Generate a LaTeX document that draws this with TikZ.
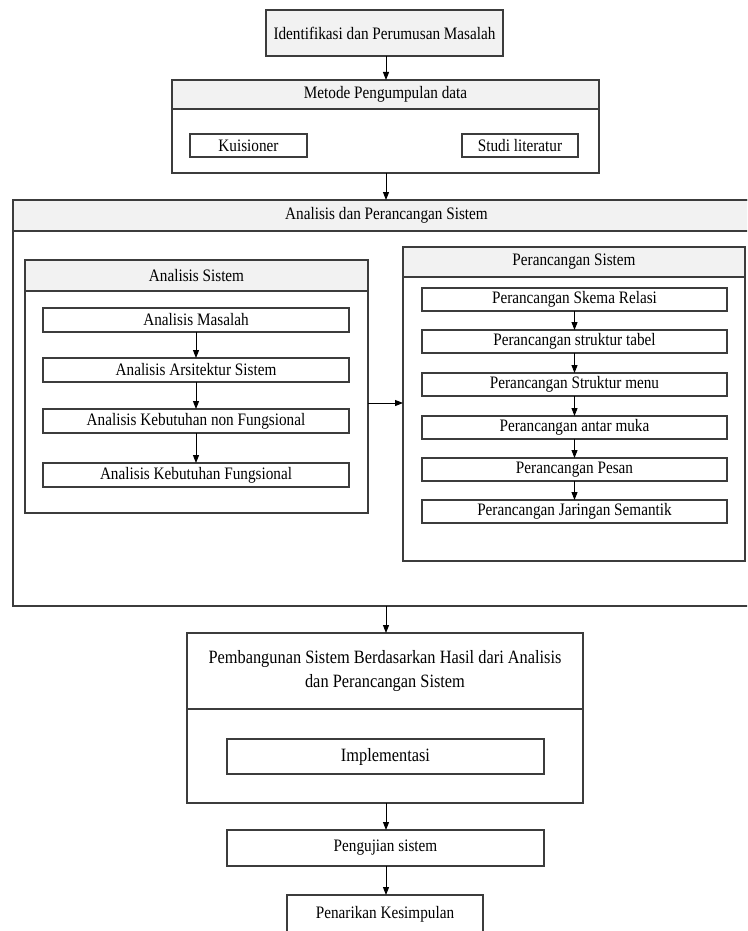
\documentclass[tikz,border=0pt]{standalone}
\usepackage{fontspec}
\setmainfont{Liberation Serif}[FakeStretch=0.87]
\usetikzlibrary{arrows.meta}
\definecolor{linec}{HTML}{3C3C3C}
\definecolor{hdrfill}{HTML}{F2F2F2}
\tikzset{
  boxbase/.style={draw=linec, line width=1.3pt, inner sep=0pt, outer sep=0pt, align=center, text=black,
    font=\fontsize{17.5}{21}\selectfont},
  whitebox/.style={boxbase, fill=white},
  graybox/.style={boxbase, fill=hdrfill},
  container/.style={boxbase, fill=white},
  bigtext/.style={font=\fontsize{18.8}{24}\selectfont},
  arr/.style={draw=black, line width=1pt, -{Triangle[length=8pt,width=6pt]}}
}
\begin{document}
\begin{tikzpicture}[x=1pt,y=-1pt]
\useasboundingbox (0,0) rectangle (747,931);
\clip (0,0) rectangle (747,931);
\fill[white] (0,0) rectangle (747,931);

% top
\node[graybox, minimum width=237pt, minimum height=46pt] (ident) at (384.5,33) {Identifikasi dan Perumusan Masalah};

\node[container, minimum width=427pt, minimum height=93pt] (metode) at (385.5,126.5) {};
\node[graybox, minimum width=427pt, minimum height=29pt] (metodeH) at (385.5,94.5) {Metode Pengumpulan data};
\node[whitebox, minimum width=117pt, minimum height=23pt] (kuis) at (248.5,145.5) {Kuisioner};
\node[whitebox, minimum width=116pt, minimum height=23pt] (studi) at (520,145.5) {Studi literatur};

% analisis dan perancangan
\node[container, minimum width=747pt, minimum height=406pt] (ap) at (386.5,403) {};
\node[graybox, minimum width=747pt, minimum height=31pt] (apH) at (386.5,215.5) {Analisis dan Perancangan Sistem};

% analisis sistem
\node[container, minimum width=343pt, minimum height=253pt] (as) at (196.5,386.5) {};
\node[graybox, minimum width=343pt, minimum height=31pt] (asH) at (196.5,275.5) {Analisis Sistem};
\node[whitebox, minimum width=306pt, minimum height=24pt] (am) at (196,320) {Analisis Masalah};
\node[whitebox, minimum width=306pt, minimum height=24pt] (aa) at (196,370) {Analisis Arsitektur Sistem};
\node[whitebox, minimum width=306pt, minimum height=24pt] (anf) at (196,421) {Analisis Kebutuhan non Fungsional};
\node[whitebox, minimum width=306pt, minimum height=24pt] (af) at (196,475) {Analisis Kebutuhan Fungsional};

% perancangan sistem
\node[container, minimum width=342pt, minimum height=314pt] (ps) at (574,404) {};
\node[graybox, minimum width=342pt, minimum height=30pt] (psH) at (574,262) {Perancangan Sistem};
\node[whitebox, minimum width=305pt, minimum height=23pt] (p1) at (574.5,299.5) {Perancangan Skema Relasi};
\node[whitebox, minimum width=305pt, minimum height=23pt] (p2) at (574.5,341.5) {Perancangan struktur tabel};
\node[whitebox, minimum width=305pt, minimum height=23pt] (p3) at (574.5,384.5) {Perancangan Struktur menu};
\node[whitebox, minimum width=305pt, minimum height=23pt] (p4) at (574.5,427.5) {Perancangan antar muka};
\node[whitebox, minimum width=305pt, minimum height=23pt] (p5) at (574.5,469.5) {Perancangan Pesan};
\node[whitebox, minimum width=305pt, minimum height=23pt] (p6) at (574.5,511.5) {Perancangan Jaringan Semantik};

% pembangunan
\node[container, minimum width=396pt, minimum height=170pt] (pb) at (385,718) {};
\node[whitebox, bigtext, minimum width=396pt, minimum height=76pt] (pbH) at (385,671) {Pembangunan Sistem Berdasarkan Hasil dari Analisis\\dan Perancangan Sistem};
\node[whitebox, bigtext, minimum width=317pt, minimum height=35pt] (impl) at (385.5,756.5) {Implementasi};

\node[whitebox, minimum width=317pt, minimum height=36pt] (peng) at (385.5,848) {Pengujian sistem};
\node[whitebox, minimum width=196pt, minimum height=38pt] (pen) at (385,914) {Penarikan Kesimpulan};

% connectors
\draw[arr] (ident.south -| 386,0) -- (metodeH.north -| 386,0);
\draw[arr] (metode.south -| 386,0) -- (apH.north -| 386,0);
\draw[arr] (am) -- (aa);
\draw[arr] (aa) -- (anf);
\draw[arr] (anf) -- (af);
\draw[arr] (as.east |- 0,403) -- (ps.west |- 0,403);
\draw[arr] (p1) -- (p2);
\draw[arr] (p2) -- (p3);
\draw[arr] (p3) -- (p4);
\draw[arr] (p4) -- (p5);
\draw[arr] (p5) -- (p6);
\draw[arr] (ap.south -| 386,0) -- (pbH.north -| 386,0);
\draw[arr] (pb.south -| 386,0) -- (peng.north -| 386,0);
\draw[arr] (peng.south -| 386,0) -- (pen.north -| 386,0);
\end{tikzpicture}
\end{document}
